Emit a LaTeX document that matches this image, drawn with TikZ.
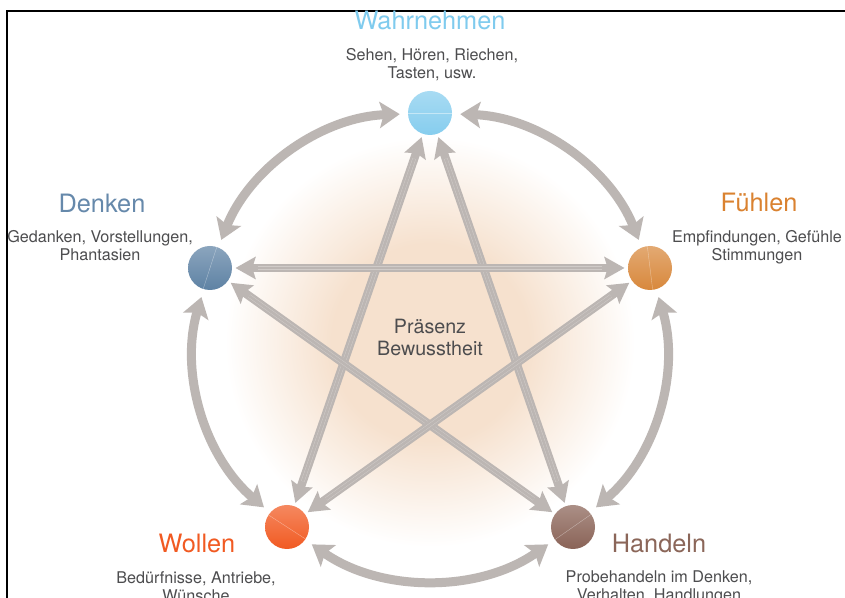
\documentclass[tikz,border=0pt]{standalone}
\usepackage{fontspec}
\setmainfont{TeX Gyre Heros}
\usepackage{tikz}
\usetikzlibrary{arrows.meta,positioning}

\definecolor{arrowgray}{RGB}{188,182,179}
\definecolor{arrowhair}{RGB}{208,203,200}
\definecolor{glowcore}{RGB}{246,225,206}
\definecolor{textgray}{RGB}{77,77,79}
\definecolor{wahrball}{RGB}{134,205,238}
\definecolor{denkball}{RGB}{94,130,164}
\definecolor{fuehlball}{RGB}{216,136,60}
\definecolor{wollball}{RGB}{241,90,34}
\definecolor{handball}{RGB}{138,99,87}
\definecolor{wahrtitle}{RGB}{127,203,238}
\definecolor{denktitle}{RGB}{102,137,171}
\definecolor{fuehltitle}{RGB}{218,130,48}
\definecolor{wolltitle}{RGB}{241,90,34}
\definecolor{handtitle}{RGB}{139,102,89}

\pgfdeclareradialshading{glow}{\pgfpoint{0bp}{0bp}}{color(0bp)=(glowcore); color(12bp)=(glowcore); color(25bp)=(white); color(50bp)=(white)}

\begin{document}
\begin{tikzpicture}[x=0.25mm, y=0.25mm,
  ball/.style 2 args={circle, inner sep=0pt, minimum size=11mm,
    top color=#1!72!white, bottom color=#1,
    path picture={\draw[white, opacity=.45, line width=.25pt]
      (path picture bounding box.center) ++(#2:6mm) -- ++(#2+180:12mm);}},
  title/.style={font=\fontsize{18}{21}\selectfont, anchor=base},
  subtext/.style={font=\fontsize{11.5}{13.5}\selectfont, text=textgray,
    align=center, anchor=base},
  ringarr/.style={draw=arrowgray, line width=2.25mm,
    {Stealth[length=5mm, width=6.5mm, inset=1mm]}-{Stealth[length=5mm, width=6.5mm, inset=1mm]},
    shorten <=2mm, shorten >=2mm, bend left=33, looseness=.95},
  stararr/.style={draw=arrowgray, line width=2.1mm,
    {Stealth[length=5mm, width=5.5mm, inset=.8mm]}-{Stealth[length=5mm, width=5.5mm, inset=.8mm]},
    shorten <=.8mm, shorten >=.8mm},
  starhair/.style={draw=arrowhair, line width=.12mm, double=arrowgray,
    double distance=.65mm, shorten <=6.5mm, shorten >=6.5mm}
]
  \useasboundingbox (0,0) rectangle (845,598);
  \clip (0,0) rectangle (845,598);
  \fill[white] (0,0) rectangle (845,598);
  \draw[line width=.6mm] (7,-5) -- (7,587) -- (850,587);
  % soft glow behind the star
  \shade[shading=glow] (430,256) circle (205);

  % balls
  \node[ball={wahrball}{0}] (wahr) at (430,485) {};
  \node[ball={fuehlball}{97}] (fuehl) at (650,330) {};
  \node[ball={handball}{35}] (hand) at (573,71) {};
  \node[ball={wollball}{-33}] (woll) at (287,71) {};
  \node[ball={denkball}{72}] (denk) at (210,330) {};

  % star
  \draw[stararr] (wahr) -- (hand);
  \draw[starhair] (wahr) -- (hand);
  \draw[stararr] (wahr) -- (woll);
  \draw[starhair] (wahr) -- (woll);
  \draw[stararr] (denk) -- (fuehl);
  \draw[starhair] (denk) -- (fuehl);
  \draw[stararr] (denk) -- (hand);
  \draw[starhair] (denk) -- (hand);
  \draw[stararr] (fuehl) -- (woll);
  \draw[starhair] (fuehl) -- (woll);

  % ring
  \draw[ringarr] (wahr) to (fuehl);
  \draw[ringarr] (fuehl) to (hand);
  \draw[ringarr, bend left=35] (hand) to (woll);
  \draw[ringarr] (woll) to (denk);
  \draw[ringarr] (denk) to (wahr);

  % labels (base = last line)
  \node[title, text=wahrtitle] (wahrT) at (430,568) {Wahrnehmen};
  \node[subtext] (wahrS) at (432,519) {Sehen, Hören, Riechen,\\Tasten, usw.};
  \node[title, text=fuehltitle] (fuehlT) at (759,386) {Fühlen};
  \node[subtext] (fuehlS) at (757,337) {Empfindungen, Gefühle\\Stimmungen};
  \node[title, text=handtitle] (handT) at (659,45) {Handeln};
  \node[subtext] (handS) at (659,-3) {Probehandeln im Denken,\\Verhalten, Handlungen};
  \node[title, text=wolltitle] (wollT) at (197,45) {Wollen};
  \node[subtext] (wollS) at (196,-4) {Bedürfnisse, Antriebe,\\Wünsche};
  \node[title, text=denktitle] (denkT) at (102,385) {Denken};
  \node[subtext] (denkS) at (100,337) {Gedanken, Vorstellungen,\\Phantasien};
  \node[anchor=base, align=center, text=textgray,
    font=\fontsize{14}{16}\selectfont] (mitte) at (430,242) {Präsenz\\Bewusstheit};
\end{tikzpicture}
\end{document}
